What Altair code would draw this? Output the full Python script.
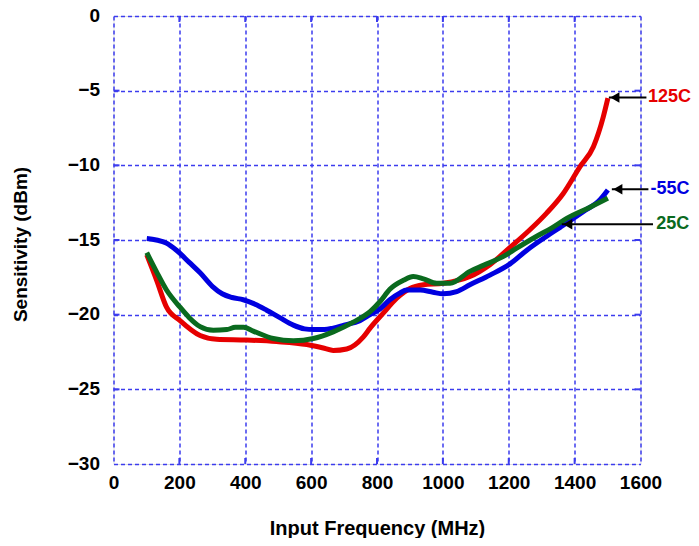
import altair as alt
import pandas as pd

# ---- data ----
freq_m55 = [101, 130, 160, 192, 230, 263, 300, 330, 360, 394, 430, 465, 505, 546, 580, 607, 640, 667, 700, 748,
            779, 810, 839, 870, 890, 931, 970, 1001, 1042, 1082, 1143, 1204, 1254, 1305, 1356, 1426, 1477, 1501]
sens_m55 = [-14.9, -15.0, -15.2, -15.7, -16.5, -17.2, -18.1, -18.6, -18.85, -19.0, -19.3, -19.7, -20.2, -20.7,
            -20.95, -21.0, -21.0, -20.9, -20.7, -20.4, -20.0, -19.6, -19.0, -18.55, -18.35, -18.35, -18.5, -18.6,
            -18.45, -18.0, -17.35, -16.6, -15.7, -14.9, -14.15, -13.1, -12.3, -11.65]

freq_25 = [101, 130, 161, 202, 230, 263, 303, 344, 370, 395, 424, 485, 546, 607, 667, 728, 779, 810, 839, 880, 910,
           941, 981, 1022, 1082, 1123, 1184, 1224, 1285, 1330, 1376, 1447, 1501]
sens_25 = [-15.85, -17.1, -18.35, -19.5, -20.2, -20.8, -21.05, -21.0, -20.85, -20.85, -21.1, -21.6, -21.75, -21.6,
           -21.15, -20.5, -19.8, -19.1, -18.3, -17.7, -17.45, -17.6, -17.9, -17.9, -17.1, -16.7, -16.1, -15.55,
           -14.75, -14.2, -13.55, -12.8, -12.2]

freq_125 = [101, 131, 161, 202, 263, 313, 404, 495, 587, 640, 667, 708, 758, 779, 819, 860, 900, 941, 1001, 1082,
            1143, 1204, 1265, 1315, 1365, 1416, 1457, 1487, 1501]
sens_125 = [-16.0, -17.7, -19.5, -20.4, -21.4, -21.65, -21.7, -21.8, -22.0, -22.25, -22.4, -22.3, -21.5, -20.9,
            -19.9, -18.9, -18.25, -18.0, -17.9, -17.45, -16.65, -15.5, -14.3, -13.2, -11.9, -10.1, -8.75, -6.75,
            -5.5]

series_names = ["125C", "-55C", "25C"]
series_colors = ["#e60000", "#0000e0", "#0a6a1e"]

# annotation labels and arrows
label_text = ["125C", "-55C", "25C"]
label_x = [1623, 1630, 1648]
label_y = [-5.45, -11.6, -13.95]
arrow_tail_x = [1618, 1624, 1638]
arrow_head_x = [1504, 1513, 1361]
arrow_y = [-5.45, -11.6, -13.95]

x_ticks = [0, 200, 400, 600, 800, 1000, 1200, 1400, 1600]
y_ticks = [0, -5, -10, -15, -20, -25, -30]
x_inner = [200, 400, 600, 800, 1000, 1200, 1400]
y_inner = [-5, -10, -15, -20, -25]

# ---- tables ----
rows = []
for name, fx, sy in [("125C", freq_125, sens_125), ("-55C", freq_m55, sens_m55), ("25C", freq_25, sens_25)]:
    for i, (f, s) in enumerate(zip(fx, sy)):
        rows.append({"series": name, "freq": f, "sens": s, "order": i})
curves = pd.DataFrame(rows)

labels = pd.DataFrame({"series": label_text, "x": label_x, "y": label_y,
                       "tail": arrow_tail_x, "head": arrow_head_x, "ay": arrow_y})
xt = pd.DataFrame({"x": x_inner})
yt = pd.DataFrame({"y": y_inner})

FONT = "Liberation Sans"
GRID = "#3c3cee"

xscale = alt.Scale(domain=[0, 1600], nice=False)
yscale = alt.Scale(domain=[-30, 0], nice=False)
color = alt.Color("series:N", scale=alt.Scale(domain=series_names, range=series_colors), legend=None)

xaxis = alt.Axis(values=x_ticks, format="d", grid=True, gridColor=GRID, gridDash=[4, 3], gridWidth=1.5,
                 ticks=False, domain=False, labelFont=FONT, labelFontSize=19, labelFontWeight="bold",
                 labelColor="black", labelPadding=9, labelFlush=False,
                 title="Input  Frequency (MHz)", titleFont=FONT, titleFontSize=20, titleFontWeight="bold",
                 titleColor="black", titleY=70, titleBaseline="alphabetic")
yaxis = alt.Axis(values=y_ticks, format="d", grid=True, gridColor=GRID, gridDash=[4, 3], gridWidth=1.5,
                 ticks=False, domain=False, labelFont=FONT, labelFontSize=19, labelFontWeight="bold",
                 labelColor="black", labelPadding=14, labelOffset=-1,
                 title="Sensitivity (dBm)", titleFont=FONT, titleFontSize=19, titleFontWeight="bold",
                 titleColor="black", titleX=-87, titleY=228, titleBaseline="alphabetic")

lines = alt.Chart(curves).mark_line(strokeWidth=5, interpolate="monotone").encode(
    x=alt.X("freq:Q", scale=xscale, axis=xaxis),
    y=alt.Y("sens:Q", scale=yscale, axis=yaxis),
    color=color,
    detail="series:N",
    order="order:Q",
)

shafts = alt.Chart(labels).mark_rule(color="black", strokeWidth=2).encode(
    x=alt.X("head:Q", scale=xscale), x2="tail:Q", y=alt.Y("ay:Q", scale=yscale))

heads = alt.Chart(labels).mark_point(shape="triangle-left", filled=True, color="black", opacity=1,
                                     size=110, xOffset=6).encode(
    x=alt.X("head:Q", scale=xscale), y=alt.Y("ay:Q", scale=yscale))

texts = alt.Chart(labels).mark_text(align="left", baseline="middle", font=FONT, fontSize=18,
                                    fontWeight="bold").encode(
    x=alt.X("x:Q", scale=xscale), y=alt.Y("y:Q", scale=yscale), text="series:N", color=color)

tick_bottom = alt.Chart(xt).mark_rule(color=GRID, strokeWidth=2).encode(
    x=alt.X("x:Q", scale=xscale), y=alt.value(448), y2=alt.value(442))
tick_top = alt.Chart(xt).mark_rule(color=GRID, strokeWidth=2).encode(
    x=alt.X("x:Q", scale=xscale), y=alt.value(0), y2=alt.value(6))
tick_left = alt.Chart(yt).mark_rule(color=GRID, strokeWidth=2).encode(
    y=alt.Y("y:Q", scale=yscale), x=alt.value(0), x2=alt.value(6))
tick_right = alt.Chart(yt).mark_rule(color=GRID, strokeWidth=2).encode(
    y=alt.Y("y:Q", scale=yscale), x=alt.value(527), x2=alt.value(521))

chart = alt.layer(tick_bottom, tick_top, tick_left, tick_right, lines, shafts, heads, texts).properties(
    width=527, height=448,
    autosize=alt.AutoSizeParams(type="none"),
    padding={"left": 105.5, "top": 8, "right": 50, "bottom": 74},
).configure_view(stroke=GRID, strokeWidth=2.5).configure(background="white")

chart.save("out.html", embed_options={"renderer": "svg", "actions": False})
